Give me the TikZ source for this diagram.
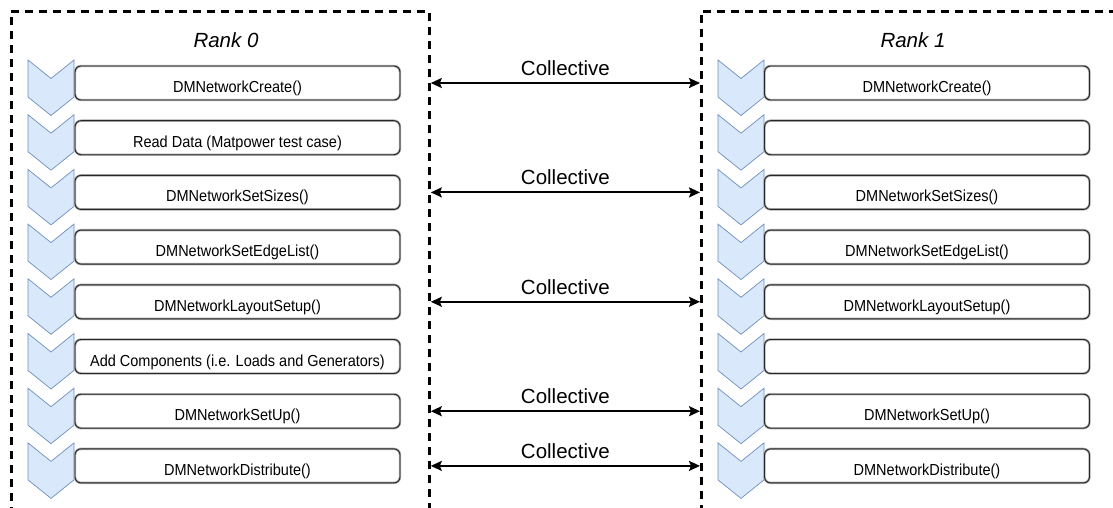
\documentclass[tikz,border=0pt]{standalone}
\usepackage{fontspec}
\usepackage{graphicx}
\setmainfont{Liberation Sans}
\usetikzlibrary{arrows.meta}
\definecolor{stepfill}{HTML}{DAE8FC}
\definecolor{stepline}{HTML}{6C8EBF}
% call names are set slightly taller than wide
\newcommand{\calltext}[1]{\scalebox{1}[1.1]{#1}}
\tikzset{
  rankbox/.style={draw, line width=2.8pt, dash pattern=on 8pt off 6pt,
    anchor=north west, inner sep=0pt},
  ranklabel/.style={font=\fontsize{20.5}{24}\selectfont\itshape},
  callbox/.style={rounded corners=6pt, minimum width=325pt, minimum height=34pt,
    inner sep=0pt, font=\fontsize{14.5}{17}\selectfont,
    text height=19pt, text depth=0pt,
    draw=gray!65, line width=2.4pt,
    postaction={draw=black!85, line width=0.9pt}},
  stepshape/.style={fill=stepfill, draw=stepline, line width=0.7pt, line join=miter},
  conn/.style={line width=1.9pt, {Stealth[length=11pt,width=10pt,inset=2pt]}-{Stealth[length=11pt,width=10pt,inset=2pt]}},
  connlabel/.style={font=\fontsize{20.5}{24}\selectfont}
}
\begin{document}
\begin{tikzpicture}[x=1pt,y=-1pt]
\clip (0,0) rectangle (1113,508);

% dashed frames for the two ranks
\node (rank0) [rankbox, minimum width=418pt, minimum height=530pt] at (10,10) {};
\node (rank1) [rankbox, minimum width=440pt, minimum height=530pt] at (700,10) {};
\node[ranklabel] (rank0label) at (226,40) {Rank 0};
\node[ranklabel] (rank1label) at (913,40) {Rank 1};

% step chevrons and call boxes
\foreach \i in {0,...,7} {
  \pgfmathsetmacro{\yt}{60+54.7*\i}
  \draw[stepshape] (28,\yt) -- ++(23,18.5) -- ++(23,-18.5) -- ++(0,37) -- ++(-23,18.5) -- ++(-23,-18.5) -- cycle;
  \draw[stepshape] (718,\yt) -- ++(23,18.5) -- ++(23,-18.5) -- ++(0,37) -- ++(-23,18.5) -- ++(-23,-18.5) -- cycle;
}

\node[callbox] (a0) at (237.5,83) {\calltext{DMNetworkCreate()}};
\node[callbox] (a1) at (237.5,137.7) {\calltext{Read Data (Matpower test case)}};
\node[callbox] (a2) at (237.5,192.4) {\calltext{DMNetworkSetSizes()}};
\node[callbox] (a3) at (237.5,247.1) {\calltext{DMNetworkSetEdgeList()}};
\node[callbox] (a4) at (237.5,301.8) {\calltext{DMNetworkLayoutSetup()}};
\node[callbox] (a5) at (237.5,356.5) {\calltext{Add Components (i.e. Loads and Generators)}};
\node[callbox] (a6) at (237.5,411.2) {\calltext{DMNetworkSetUp()}};
\node[callbox] (a7) at (237.5,465.9) {\calltext{DMNetworkDistribute()}};

\node[callbox] (b0) at (927,83) {\calltext{DMNetworkCreate()}};
\node[callbox] (b1) at (927,137.7) {};
\node[callbox] (b2) at (927,192.4) {\calltext{DMNetworkSetSizes()}};
\node[callbox] (b3) at (927,247.1) {\calltext{DMNetworkSetEdgeList()}};
\node[callbox] (b4) at (927,301.8) {\calltext{DMNetworkLayoutSetup()}};
\node[callbox] (b5) at (927,356.5) {};
\node[callbox] (b6) at (927,411.2) {\calltext{DMNetworkSetUp()}};
\node[callbox] (b7) at (927,465.9) {\calltext{DMNetworkDistribute()}};

% collective calls between the ranks
\foreach \k in {0,2,4,6,7} {
  \draw[conn] (rank0.east |- a\k) -- node[connlabel, above=3pt] {Collective} (rank1.west |- b\k);
}
\end{tikzpicture}
\end{document}
